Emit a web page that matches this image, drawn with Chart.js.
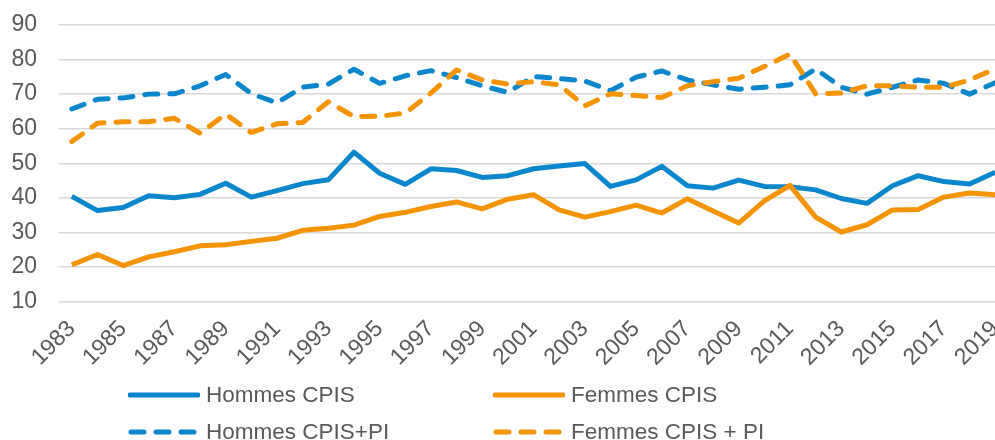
<!DOCTYPE html>
<html>
<head>
<meta charset="utf-8">
<script src="https://cdn.jsdelivr.net/npm/chart.js@4"></script>
<style>
  html, body { margin: 0; padding: 0; background: #fff; overflow: hidden; }
  #wrap { position: relative; width: 1008px; height: 440px; }
  .leg { position: absolute; display: flex; align-items: center; font-family: "Liberation Sans", Arial, sans-serif; font-size: 22.5px; color: #595959; white-space: nowrap; }
  .leg svg { margin-right: 6px; }
</style>
</head>
<body>
<div id="wrap">
  <canvas id="chart"></canvas>
</div>
<script>
const years = [1983, 1984, 1985, 1986, 1987, 1988, 1989, 1990, 1991, 1992, 1993, 1994, 1995, 1996, 1997, 1998, 1999, 2000, 2001, 2002, 2003, 2004, 2005, 2006, 2007, 2008, 2009, 2010, 2011, 2012, 2013, 2014, 2015, 2016, 2017, 2018, 2019];

const hommesCPIS = [40.4, 36.3, 37.2, 40.6, 40.0, 41.0, 44.2, 40.2, 42.1, 44.1, 45.2, 53.2, 47.1, 43.9, 48.4, 47.9, 45.9, 46.4, 48.4, 49.2, 49.9, 43.3, 45.2, 49.1, 43.5, 42.8, 45.1, 43.3, 43.2, 42.3, 39.8, 38.4, 43.5, 46.4, 44.7, 44.0, 47.4];
const femmesCPIS = [20.6, 23.6, 20.4, 22.9, 24.4, 26.1, 26.4, 27.4, 28.3, 30.6, 31.2, 32.1, 34.6, 35.8, 37.5, 38.8, 36.8, 39.6, 40.9, 36.5, 34.4, 36.0, 37.9, 35.6, 39.7, 36.2, 32.7, 39.1, 43.6, 34.4, 30.1, 32.2, 36.5, 36.6, 40.2, 41.4, 40.9];
const hommesCPISPI = [65.7, 68.5, 68.9, 70.0, 70.1, 72.4, 75.7, 70.1, 67.5, 72.0, 72.9, 77.2, 73.1, 75.3, 76.8, 74.8, 72.4, 70.5, 75.1, 74.5, 73.8, 71.0, 74.9, 76.7, 74.1, 72.7, 71.4, 72.0, 72.7, 77.3, 72.0, 70.0, 72.0, 74.1, 73.1, 70.0, 73.3];
const femmesCPISPI = [56.3, 61.6, 62.0, 62.0, 63.0, 58.7, 64.2, 58.9, 61.4, 61.8, 67.8, 63.5, 63.6, 64.5, 70.3, 77.0, 74.1, 72.9, 73.6, 72.7, 66.6, 70.1, 69.6, 69.0, 72.4, 73.6, 74.6, 78.0, 81.6, 70.1, 70.3, 72.4, 72.4, 72.0, 72.0, 74.1, 77.3];

const seriesNames = ['Hommes CPIS', 'Femmes CPIS', 'Hommes CPIS+PI', 'Femmes CPIS + PI'];
const yTicks = [10, 20, 30, 40, 50, 60, 70, 80, 90];

const BLUE = '#0A87CC';
const ORANGE = '#F59300';
const TEXT = '#595959';
const FONT = '"Liberation Sans", Arial, sans-serif';
const DASH = [13, 12];

const seriesData = [hommesCPIS, femmesCPIS, hommesCPISPI, femmesCPISPI];
const seriesColors = [BLUE, ORANGE, BLUE, ORANGE];
const seriesDash = [[], [], DASH, DASH];

const datasets = seriesData.map((d, i) => ({
  label: seriesNames[i],
  data: d,
  borderColor: seriesColors[i],
  backgroundColor: seriesColors[i],
  borderWidth: 5,
  borderDash: seriesDash[i],
  borderCapStyle: seriesDash[i].length ? 'round' : 'butt',
  borderJoinStyle: 'round',
  pointRadius: 0,
  tension: 0,
  order: seriesData.length - i, // later series on top
}));

const ctx = document.getElementById('chart');
new Chart(ctx, {
  type: 'line',
  data: { labels: years, datasets: datasets },
  options: {
    responsive: true,
    maintainAspectRatio: false,
    animation: false,
    layout: { padding: { top: 25, left: 0, right: 0, bottom: 0 } },
    plugins: { legend: { display: false }, tooltip: { enabled: false } },
    scales: {
      x: {
        offset: true,
        grid: { display: false, drawTicks: false },
        border: { display: false },
        ticks: {
          autoSkip: false,
          maxRotation: 45,
          minRotation: 45,
          padding: 14,
          color: TEXT,
          font: { family: FONT, size: 23 },
          callback: (val, i) => (i % 2 === 0 ? years[i] : ''),
        },
        afterFit: (scale) => {
          scale.height = 440 - 301.5;
          scale.paddingLeft = 0;
          scale.paddingRight = 0;
        },
      },
      y: {
        min: yTicks[0],
        max: yTicks[yTicks.length - 1],
        afterBuildTicks: (scale) => { scale.ticks = yTicks.map(v => ({ value: v })); },
        grid: { color: '#D9D9D9', lineWidth: 1.5, drawTicks: false },
        border: { display: false },
        ticks: {
          padding: 22,
          color: TEXT,
          font: { family: FONT, size: 23 },
        },
        afterFit: (scale) => {
          scale.width = 59;
          scale.paddingTop = 0;
          scale.paddingBottom = 0;
        },
      },
    },
  },
});

// two-row legend like the original
const legendPos = [[128, 395], [493, 395], [128, 432], [493, 432]];
const wrap = document.getElementById('wrap');
seriesNames.forEach((name, i) => {
  const item = document.createElement('div');
  item.className = 'leg';
  item.style.left = legendPos[i][0] + 'px';
  item.style.top = (legendPos[i][1] - 14) + 'px';
  const dash = seriesDash[i].length ? 'stroke-dasharray="13 12" stroke-linecap="round"' : 'stroke-linecap="round"';
  const x1 = seriesDash[i].length ? 3 : 2;
  item.innerHTML = '<svg width="72" height="28"><line x1="' + x1 + '" y1="14" x2="70" y2="14" stroke="' + seriesColors[i] + '" stroke-width="5" ' + dash + '/></svg><span>' + name + '</span>';
  wrap.appendChild(item);
});
</script>
</body>
</html>
